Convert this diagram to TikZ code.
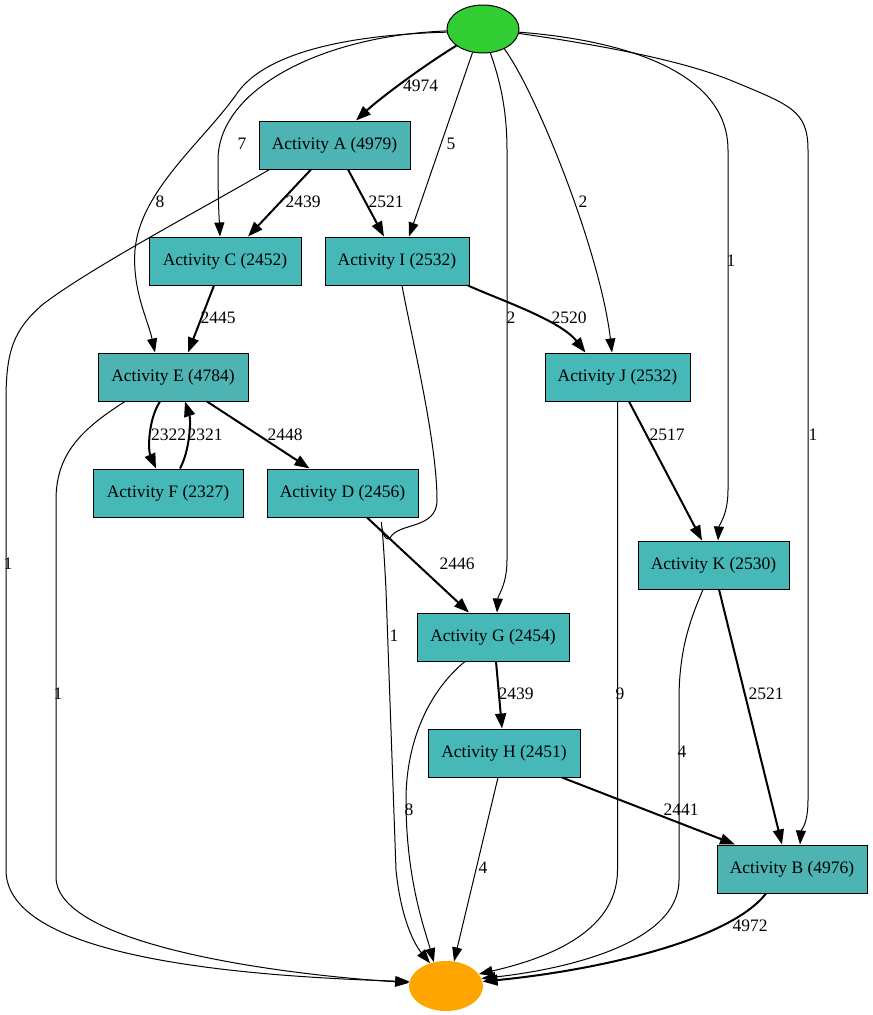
\documentclass[tikz,border=0pt]{standalone}
\usepackage{fontspec}
\setmainfont{Liberation Serif}
\usetikzlibrary{arrows.meta,shapes.geometric}
\definecolor{actdark}{HTML}{4DB3B3}
\definecolor{actlight}{HTML}{46B8B8}
\definecolor{startg}{HTML}{32CD32}
\definecolor{endo}{HTML}{FFA500}
\begin{document}
\begin{tikzpicture}[x=1pt,y=-1pt,
  act/.style={draw=black,line width=1pt,rectangle,minimum height=48pt,inner sep=0pt,font=\fontsize{17.5}{20}\selectfont},
  thinedge/.style={draw=black,line width=1pt,-{Triangle[length=14pt,width=10pt]}},
  thickedge/.style={draw=black,line width=2pt,-{Triangle[length=15pt,width=11pt]}},
  lbl/.style={inner sep=0pt,font=\fontsize{17.5}{20}\selectfont}]
\useasboundingbox (0,0) rectangle (873,1015);
% nodes
\node[ellipse,draw=black,line width=1pt,fill=startg,minimum width=72pt,minimum height=48pt,inner sep=0pt] (s) at (483,29) {};
\node[ellipse,fill=endo,minimum width=74pt,minimum height=50pt,inner sep=0pt] (e) at (446,986) {};
\node[act,fill=actdark,minimum width=151pt] (A) at (334.5,145) {Activity A (4979)};
\node[act,fill=actlight,minimum width=152pt] (C) at (225,261) {Activity C (2452)};
\node[act,fill=actlight,minimum width=144pt] (I) at (397,261) {Activity I (2532)};
\node[act,fill=actdark,minimum width=150pt] (E) at (173,377) {Activity E (4784)};
\node[act,fill=actlight,minimum width=145pt] (J) at (617.5,377) {Activity J (2532)};
\node[act,fill=actlight,minimum width=150pt] (F) at (168,493) {Activity F (2327)};
\node[act,fill=actlight,minimum width=151pt] (D) at (342.5,493) {Activity D (2456)};
\node[act,fill=actlight,minimum width=151pt] (K) at (713.5,565) {Activity K (2530)};
\node[act,fill=actlight,minimum width=152pt] (G) at (493,637) {Activity G (2454)};
\node[act,fill=actlight,minimum width=152pt] (H) at (504,753) {Activity H (2451)};
\node[act,fill=actdark,minimum width=150pt] (B) at (792,869) {Activity B (4976)};
% edges from start
\path[thickedge] (s.212) .. controls (420,68) and (378,100) .. ([xshift=21.5pt]A.north);
\path[thinedge] (s.183) .. controls (320,36) and (218,90) .. (218,160) .. controls (218,200) and (219,215) .. ([xshift=-5pt]C.north);
\path[thinedge] (s.185) .. controls (340,35) and (265,55) .. (238,92) .. controls (205,140) and (140,190) .. (135,250) .. controls (132,290) and (148,320) .. ([xshift=-18pt]E.north);
\path[thinedge] (s.246) -- ([xshift=12pt]I.north);
\path[thinedge] (s.287) .. controls (500,80) and (507,110) .. (507,150) -- (507,560) .. controls (507,585) and (498,595) .. ([xshift=4pt]G.north);
\path[thinedge] (s.317) .. controls (535,90) and (600,250) .. ([xshift=-5.5pt]J.north);
\path[thinedge] (s.355) .. controls (620,40) and (728,70) .. (728,150) -- (728,490) .. controls (728,515) and (719,525) .. ([xshift=4.5pt]K.north);
\path[thinedge] (s.353) .. controls (600,45) and (680,60) .. (730,80) .. controls (790,105) and (808,110) .. (808,150) -- (808,800) .. controls (808,825) and (801,830) .. ([xshift=8pt]B.north);
% other edges
\path[thickedge] ([xshift=-23.5pt]A.south) -- ([xshift=23pt]C.north);
\path[thickedge] ([xshift=13.5pt]A.south) -- ([xshift=-13pt]I.north);
\path[thinedge] ([xshift=-65pt]A.south) .. controls (200,210) and (90,268) .. (42,305) .. controls (14,330) and (6,350) .. (6,400) -- (6,870) .. controls (6,950) and (200,975) .. (e.173);
\path[thickedge] ([xshift=-11pt]C.south) -- ([xshift=15pt]E.north);
\path[thickedge] ([xshift=71pt]I.south) .. controls (500,300) and (560,320) .. ([xshift=-32pt]J.north);
\path[thinedge] ([xshift=5pt]I.south) .. controls (410,330) and (437,440) .. (437,500) .. controls (437,530) and (398,522) .. (390,538) .. controls (378,548) and (380,470) .. (386,590) -- (396,870) .. controls (401,920) and (415,945) .. (e.125);
\path[thickedge] ([xshift=-13pt]E.south) .. controls (148,420) and (148,450) .. ([xshift=-12pt]F.north);
\path[thickedge] ([xshift=12pt]F.north) .. controls (190,450) and (191,420) .. ([xshift=12pt]E.south);
\path[thickedge] ([xshift=34pt]E.south) -- ([xshift=-33pt]D.north);
\path[thinedge] ([xshift=-48pt]E.south) .. controls (80,430) and (56,455) .. (56,500) -- (56,877) .. controls (56,940) and (250,972) .. (e.175);
\path[thickedge] ([xshift=11.5pt]J.south) -- ([xshift=-11.5pt]K.north);
\path[thinedge] (J.south) -- (617.5,870) .. controls (617.5,935) and (540,960) .. (e.20);
\path[thickedge] ([xshift=24.5pt]D.south) -- ([xshift=-24pt]G.north);
\path[thinedge] ([xshift=-10.5pt]K.south) .. controls (690,620) and (679,650) .. (679,700) -- (679,880) .. controls (679,945) and (560,970) .. (e.12);
\path[thickedge] ([xshift=5.5pt]K.south) -- ([xshift=-10pt]B.north);
\path[thickedge] ([xshift=3pt]G.south) -- ([xshift=-2pt]H.north);
\path[thinedge] ([xshift=-28pt]G.south) .. controls (430,690) and (406,740) .. (406,800) .. controls (406,880) and (425,930) .. (e.117);
\path[thickedge] ([xshift=58pt]H.south) -- ([xshift=-57pt]B.north);
\path[thinedge] ([xshift=-6pt]H.south) -- (e.72);
\path[thickedge] ([xshift=-26pt]B.south) .. controls (730,940) and (600,970) .. (e.7);
% labels
\node[lbl] (l1) at (420.5,86) {4974};
\node[lbl] (l2) at (242,144) {7};
\node[lbl] (l3) at (451,144) {5};
\node[lbl] (l4) at (160,202) {8};
\node[lbl] (l5) at (303,202) {2439};
\node[lbl] (l6) at (386,202) {2521};
\node[lbl] (l7) at (583,202) {2};
\node[lbl] (l8) at (731,261) {1};
\node[lbl] (l9) at (218,318) {2445};
\node[lbl] (l10) at (511,318) {2};
\node[lbl] (l11) at (569,318) {2520};
\node[lbl] (l12) at (168.5,435) {2322};
\node[lbl] (l13) at (205,435) {2321};
\node[lbl] (l14) at (285,435) {2448};
\node[lbl] (l15) at (667,435) {2517};
\node[lbl] (l16) at (813,435) {1};
\node[lbl] (l17) at (8,564) {1};
\node[lbl] (l18) at (457,564) {2446};
\node[lbl] (l19) at (394,636) {1};
\node[lbl] (l20) at (58,694) {1};
\node[lbl] (l21) at (516,694) {2439};
\node[lbl] (l22) at (620,694) {9};
\node[lbl] (l23) at (766,694) {2521};
\node[lbl] (l24) at (682,752) {4};
\node[lbl] (l25) at (409,810) {8};
\node[lbl] (l26) at (681,810) {2441};
\node[lbl] (l27) at (483,868) {4};
\node[lbl] (l28) at (750,926) {4972};
\end{tikzpicture}
\end{document}
